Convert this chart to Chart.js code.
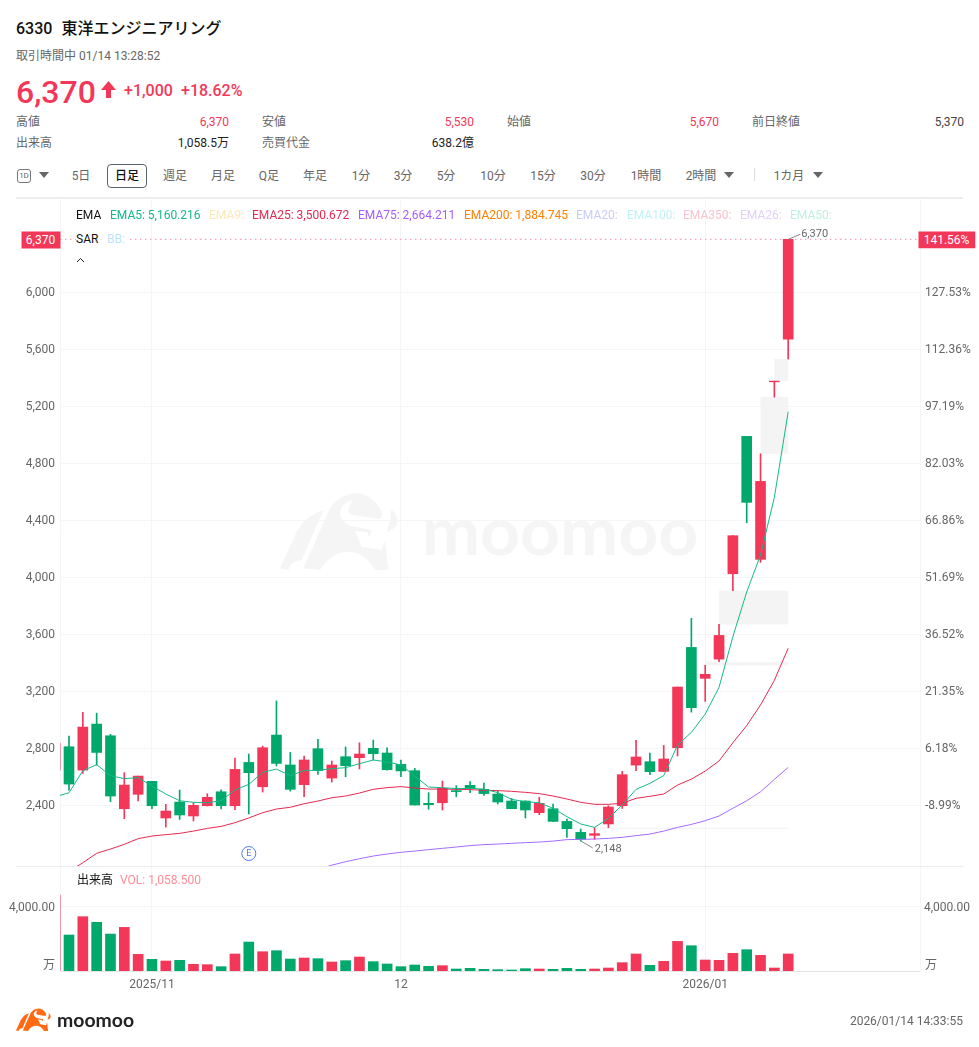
<!DOCTYPE html>
<html lang="ja"><head><meta charset="utf-8">
<script src="https://cdn.jsdelivr.net/npm/chart.js@4"></script>
<style>
html,body{margin:0;padding:0;background:#fff;}
body{width:979px;height:1047px;position:relative;overflow:hidden;font-family:Roboto,"Noto Sans CJK JP",sans-serif;font-size:12px;color:#666;}
.t{position:absolute;white-space:nowrap;line-height:16px;transform:translateY(-50%);}
.r{transform:translate(-100%,-50%);}
.c{transform:translate(-50%,-50%);}
canvas{position:absolute;left:0;}
.hl{position:absolute;background:#ececec;height:2px;left:16px;width:947px;}
</style></head><body>
<svg style="position:absolute;left:270px;top:485px" width="440" height="90" viewBox="0 0 1320 270">
<defs><g id="bull">
<path d="M30 250L80 140Q110 90 160 75L95 225Q65 225 55 255Z"/>
<path d="M100 250L180 70Q205 30 255 25Q305 25 335 80Q340 100 325 102L250 90Q232 85 235 72L247 45Q212 55 210 90Q215 112 240 122L305 135L298 158L292 142L255 138L275 185L335 195L345 165L355 255L315 255Q285 200 230 200Q180 205 150 255Z"/>
<path d="M362 72Q385 90 382 112Q378 135 350 140L362 100Z"/></g></defs>
<use href="#bull" fill="#f5f5f5"/>
<text x="455" y="210" font-family="Lato,Roboto" font-weight="700" font-size="200" fill="#f5f5f5" textLength="830" lengthAdjust="spacingAndGlyphs">moomoo</text>
</svg>
<canvas id="priceChart" width="979" height="668" style="top:198px"></canvas>
<canvas id="volChart" width="979" height="134" style="top:866px"></canvas>
<div class="hl" style="top:197px"></div>
<div class="hl" style="top:865.5px;height:1.5px"></div>

<div class="t" style="left:16px;top:29px;color:#111;font-weight:500;font-size:16px;">6330<span style="margin-left:9px;">東洋エンジニアリング</span></div>
<div class="t" style="left:16px;top:56px;">取引時間中 01/14 13:28:52</div>
<div class="t" style="left:16px;top:92px;color:#f23758;font-size:32px;font-weight:500;line-height:36px;">6,370</div>
<svg style="position:absolute;left:100px;top:80px" width="17" height="19"><path d="M8.5 1L16 10H11V18H6V10H1Z" fill="#f23758"/></svg>
<div class="t" style="left:124px;top:91px;color:#f23758;font-size:16px;font-weight:500;">+1,000</div>
<div class="t" style="left:181px;top:91px;color:#f23758;font-size:16px;font-weight:500;">+18.62%</div>

<div class="t" style="left:16px;top:122px;">高値</div><div class="t r" style="left:229px;top:122px;color:#f23758;">6,370</div>
<div class="t" style="left:262px;top:122px;">安値</div><div class="t r" style="left:474px;top:122px;color:#f23758;">5,530</div>
<div class="t" style="left:507px;top:122px;">始値</div><div class="t r" style="left:719px;top:122px;color:#f23758;">5,670</div>
<div class="t" style="left:752px;top:122px;">前日終値</div><div class="t r" style="left:964px;top:122px;color:#444;">5,370</div>
<div class="t" style="left:16px;top:143px;">出来高</div><div class="t r" style="left:229px;top:143px;color:#222;">1,058.5万</div>
<div class="t" style="left:262px;top:143px;">売買代金</div><div class="t r" style="left:474px;top:143px;color:#222;">638.2億</div>

<div style="position:absolute;left:17px;top:169px;width:12px;height:12px;border:1px solid #777;border-radius:3px;color:#666;font-size:8px;line-height:12px;text-align:center;">1D</div>
<svg style="position:absolute;left:39px;top:172px" width="10" height="7"><path d="M0 0H10L5 6Z" fill="#666"/></svg>
<div style="position:absolute;left:107px;top:164px;width:38px;height:22px;border:1px solid #5a6573;border-radius:4px;"></div>
<div id="toolbar"></div>
<svg style="position:absolute;left:724px;top:172px" width="10" height="7"><path d="M0 0H10L5 6Z" fill="#666"/></svg>
<div style="position:absolute;left:754px;top:168px;width:1px;height:13px;background:#ddd;"></div>
<svg style="position:absolute;left:813px;top:172px" width="10" height="7"><path d="M0 0H10L5 6Z" fill="#666"/></svg>

<div id="legend"></div>
<div class="t" style="left:76px;top:239px;color:#111;background:#fff;padding-right:3px;">SAR</div>
<div class="t" style="left:105px;top:239px;color:#bfe3fb;background:#fff;padding:0 3px 0 2px;">BB:</div>
<svg style="position:absolute;left:76px;top:257px" width="9" height="6"><path d="M1 5L4.5 1.5L8 5" fill="none" stroke="#222" stroke-width="1"/></svg>
<div class="t c" style="left:40.5px;top:239.5px;width:39px;height:17px;line-height:17px;background:#f23758;color:#fff;text-align:center;">6,370</div>
<div class="t c" style="left:946.5px;top:239.5px;width:57px;height:17px;line-height:17px;background:#f23758;color:#fff;text-align:center;">141.56%</div>

<div class="t" style="left:77px;top:880px;color:#111;">出来高</div>
<div class="t" style="left:120px;top:880px;color:#ff8d98;">VOL: 1,058.500</div>
<div class="t" style="left:43px;top:965px;">万</div>
<div class="t" style="left:925px;top:965px;">万</div>

<svg style="position:absolute;left:15px;top:1006px" width="37" height="27" viewBox="20 10 375 255"><use href="#bull" fill="#ff6a13"/></svg>
<div class="t" style="left:57px;top:1020px;color:#222;font-family:Lato,Roboto;font-weight:700;font-size:19.4px;">moomoo</div>
<div class="t r" style="left:963px;top:1021px;">2026/01/14 14:33:55</div>

<script>
// Trading days; the first entry is the session clipped at the plot's left edge.
const dates = ["10/23","10/24","10/27","10/28","10/29","10/30","10/31","11/04","11/05","11/06","11/07","11/10","11/11","11/12","11/13","11/14","11/17","11/18","11/19","11/20","11/21","11/25","11/26","11/27","11/28","12/01","12/02","12/03","12/04","12/05","12/08","12/09","12/10","12/11","12/12","12/15","12/16","12/17","12/18","12/19","12/22","12/23","12/24","12/25","12/26","12/29","12/30","01/05","01/06","01/07","01/08","01/09","01/13","01/14"];
const opens  = [2645,2809,2645,2968,2886,2374,2475,2566,2309,2421,2323,2395,2493,2395,2699,2528,2891,2681,2543,2795,2589,2739,2732,2798,2765,2685,2641,2412,2416,2501,2538,2510,2477,2428,2428,2346,2374,2285,2208,2187,2267,2395,2680,2704,2636,2802,3506,3289,3424,4023,4987,4124,5370,5670];
const highs  = [2850,2884,3050,3045,2896,2627,2603,2566,2405,2505,2416,2479,2507,2730,2758,2814,3130,2769,2744,2861,2709,2807,2837,2856,2802,2716,2657,2487,2568,2536,2564,2554,2498,2447,2430,2454,2407,2302,2232,2241,2395,2636,2854,2765,2818,3228,3710,3380,3668,4290,4987,4865,5375,6370];
const lows   = [2640,2505,2622,2680,2423,2304,2428,2374,2245,2299,2288,2393,2372,2367,2337,2491,2674,2498,2458,2615,2561,2599,2653,2716,2645,2599,2400,2370,2365,2458,2487,2468,2407,2374,2309,2332,2283,2173,2148,2159,2241,2376,2641,2613,2634,2744,3052,3127,3406,3904,4381,4103,5263,5530];
const closes = [2833,2547,2947,2769,2463,2540,2603,2395,2358,2330,2398,2454,2395,2650,2627,2802,2692,2510,2716,2641,2681,2676,2758,2760,2648,2639,2400,2402,2517,2494,2517,2480,2421,2374,2365,2412,2285,2234,2159,2199,2386,2613,2737,2634,2723,3228,3083,3317,3590,4290,4524,4671,5375,6370];
const volumes= [4727,2238,3378,3026,2298,2712,1035,725,621,662,414,393,269,1056,1801,1200,1263,745,807,766,559,642,869,580,435,269,373,290,331,124,166,104,83,62,145,124,104,166,104,124,186,518,1056,352,600,1842,1573,683,662,1097,1325,973,186,1058];
const ema5   = [2458,2486,2641,2683,2606,2585,2592,2533,2477,2430,2419,2416,2430,2505,2545,2629,2652,2606,2643,2643,2655,2662,2690,2716,2702,2681,2604,2526,2522,2515,2517,2512,2487,2440,2423,2416,2377,2318,2267,2243,2306,2400,2510,2552,2606,2821,2910,3038,3226,3581,3895,4154,4559,5160];
const ema25  = [1895,1932,1995,2061,2091,2124,2164,2182,2192,2201,2217,2236,2250,2276,2309,2346,2372,2384,2409,2428,2451,2463,2484,2510,2522,2529,2519,2512,2512,2510,2508,2503,2501,2496,2489,2480,2463,2442,2419,2405,2405,2412,2447,2461,2477,2540,2582,2638,2709,2837,2957,3102,3275,3500];
const ema75  = [null,null,null,null,null,null,null,null,null,null,null,null,null,null,null,null,null,null,null,1948,1978,2002,2023,2042,2056,2068,2077,2087,2096,2105,2115,2122,2126,2131,2136,2140,2147,2157,2159,2161,2166,2173,2185,2196,2217,2243,2264,2290,2323,2377,2430,2493,2580,2664];
const priceTicks = [2400,2800,3200,3600,4000,4400,4800,5200,5600,6000];
const percentLabels = ["-8.99%","6.18%","21.35%","36.52%","51.69%","66.86%","82.03%","97.19%","112.36%","127.53%"];
const volTicks = [4000];
const monthTicks = [7,25,47];
const monthLabels = ["2025/11","12","2026/01"];
const lastPrice = 6370;
// unfilled price gaps: first session index, last session index, low, high
const gapFrom=[39,47,48,51,52], gapTo=[53,53,53,53,53], gapLow=[2232,3380,3668,4865,5375], gapHigh=[2241,3403,3904,5263,5530];
const legendNames=["EMA","EMA5: 5,160.216","EMA9:","EMA25: 3,500.672","EMA75: 2,664.211","EMA200: 1,884.745","EMA20:","EMA100:","EMA350:","EMA26:","EMA50:"];
const legendColors=["#111","#14b98a","#fde9b6","#e5294f","#a45cff","#ff8000","#c9ccf8","#bff2f8","#f9c4cf","#e2d0fb","#bff0de"];
const legendX=[76,110,209,252,358,464,576,627,683,740,790];
const tools=["5日","日足","週足","月足","Q足","年足","1分","3分","5分","10分","15分","30分","1時間","2時間","1カ月"];
const toolX=[81,127,175,223,269,315,361,403,446,493,543,593,646,701,789];

legendNames.forEach((n,i)=>{const d=document.createElement('div');d.className='t';d.style.cssText=`left:${legendX[i]}px;top:215px;color:${legendColors[i]}`;d.textContent=n;document.getElementById('legend').appendChild(d);});
tools.forEach((n,i)=>{const d=document.createElement('div');d.className='t c';d.style.cssText=`left:${toolX[i]}px;top:176px;color:${n==='日足'?'#111':'#666'};font-weight:${n==='日足'?500:400}`;d.textContent=n;document.getElementById('toolbar').appendChild(d);});

const UP='#f23758', DOWN='#00a86b', GRID='#f5f5f5';
const barColors=closes.map((c,i)=>c>=opens[i]?UP:DOWN);
const xMin=0.35, xMax=62.53;
const xy=(arr)=>arr.map((v,i)=>({x:i,y:v}));
const lineDs=(data,color)=>({type:'line',data:xy(data),borderColor:color,borderWidth:1,pointRadius:0,tension:0,order:0});
const noPadV=(w)=>s=>{s.width=w;s.paddingTop=0;s.paddingBottom=0;};
const noPadH=(h)=>s=>{s.height=h;s.paddingLeft=0;s.paddingRight=0;};

const gapPlugin={id:'gaps',beforeDatasetsDraw(c){const {ctx,scales:{x,y}}=c;ctx.save();ctx.fillStyle='#f4f4f4';
 gapFrom.forEach((f,i)=>{const l=x.getPixelForValue(f),r=x.getPixelForValue(gapTo[i]),t=y.getPixelForValue(gapHigh[i]),b=y.getPixelForValue(gapLow[i]);ctx.fillRect(l,t,r-l,b-t);});ctx.restore();}};
const notePlugin={id:'notes',afterDatasetsDraw(c){const {ctx,scales:{x,y}}=c;ctx.save();ctx.font='11px Roboto';ctx.fillStyle='#666';ctx.strokeStyle='#888';ctx.lineWidth=1;
 const hi=highs.indexOf(Math.max(...highs)),lo=lows.indexOf(Math.min(...lows));
 let px=x.getPixelForValue(hi),py=y.getPixelForValue(highs[hi]);
 ctx.beginPath();ctx.moveTo(px,py);ctx.lineTo(px+12,py-5);ctx.stroke();ctx.textBaseline='middle';ctx.fillText('6,370',px+13,py-5);
 px=x.getPixelForValue(lo);py=y.getPixelForValue(lows[lo]);
 ctx.beginPath();ctx.moveTo(px,py);ctx.lineTo(px+12,py+7);ctx.stroke();ctx.fillText('2,148',px+14,py+8);
 const ex=x.getPixelForValue(14),ey=c.chartArea.bottom-12.5;
 ctx.beginPath();ctx.arc(ex,ey,7,0,Math.PI*2);ctx.fillStyle='#fff';ctx.fill();ctx.strokeStyle='#4c7bf0';ctx.stroke();
 ctx.fillStyle='#4c7bf0';ctx.font='9px Roboto';ctx.textAlign='center';ctx.fillText('E',ex,ey+0.5);
 ctx.restore();}};

const tickFont={family:'Roboto',size:12};
// two-line labels with a 2px line height nudge the text 1px below the gridline, as in the reference
const yTickFont={family:'Roboto',size:12,lineHeight:2/12};
const nudged=(s)=>['',s];
new Chart(document.getElementById('priceChart'),{
 data:{datasets:[
  lineDs(ema5,'#14b98a'),lineDs(ema25,'#e5294f'),lineDs(ema75,'#a66bff'),
  {type:'line',data:[{x:xMin,y:lastPrice},{x:xMax,y:lastPrice}],borderColor:'#f2a0b0',borderWidth:1.2,borderDash:[1.4,3.6],pointRadius:0,order:3},
  {type:'bar',label:'body',data:opens.map((o,i)=>({x:i,y:[Math.min(o,closes[i]),Math.max(o,closes[i])]})),backgroundColor:barColors,barThickness:10,grouped:false,order:1,borderWidth:0},
  {type:'bar',label:'wick',data:highs.map((h,i)=>({x:i,y:[lows[i],h]})),backgroundColor:barColors,barThickness:1,grouped:false,order:2,borderWidth:0}
 ]},
 options:{responsive:false,animation:false,layout:{padding:0},plugins:{legend:{display:false},tooltip:{enabled:false}},
  scales:{
   x:{type:'linear',offset:false,min:xMin,max:xMax,afterBuildTicks:s=>{s.ticks=monthTicks.map(v=>({value:v}));},afterFit:noPadH(0),
      ticks:{display:false},grid:{offset:false,color:GRID,drawTicks:false},border:{display:false}},
   y:{type:'linear',position:'left',min:1972,max:6660,afterBuildTicks:s=>{s.ticks=priceTicks.map(v=>({value:v}));},afterFit:noPadV(60),
      ticks:{color:'#666',font:yTickFont,padding:5,callback:v=>nudged(v.toLocaleString('en-US'))},grid:{color:GRID,drawTicks:false},border:{color:GRID}},
   y2:{type:'linear',position:'right',min:1972,max:6660,afterBuildTicks:s=>{s.ticks=priceTicks.map(v=>({value:v}));},afterFit:noPadV(59),
      ticks:{color:'#666',font:yTickFont,padding:5,callback:v=>nudged(percentLabels[priceTicks.indexOf(v)])},grid:{display:false,drawTicks:false},border:{color:GRID}}
  }},
 plugins:[gapPlugin,notePlugin]
});
new Chart(document.getElementById('volChart'),{
 data:{datasets:[{type:'bar',data:xy(volumes),backgroundColor:barColors,barThickness:10,borderWidth:0}]},
 options:{responsive:false,animation:false,layout:{padding:0},plugins:{legend:{display:false},tooltip:{enabled:false}},
  scales:{
   x:{type:'linear',offset:false,min:xMin,max:xMax,afterBuildTicks:s=>{s.ticks=monthTicks.map(v=>({value:v}));},afterFit:noPadH(29),
      ticks:{color:'#666',font:tickFont,padding:7,maxRotation:0,autoSkip:false,callback:v=>monthLabels[monthTicks.indexOf(v)]},grid:{offset:false,color:GRID,drawTicks:false},border:{color:'#e4e4e4',width:1}},
   y:{type:'linear',position:'left',min:0,max:6530,afterBuildTicks:s=>{s.ticks=volTicks.map(v=>({value:v}));},afterFit:noPadV(60),
      ticks:{color:'#666',font:yTickFont,padding:5,callback:v=>nudged(v.toLocaleString('en-US',{minimumFractionDigits:2}))},grid:{color:GRID,drawTicks:false},border:{color:GRID}},
   y2:{type:'linear',position:'right',min:0,max:6530,afterBuildTicks:s=>{s.ticks=volTicks.map(v=>({value:v}));},afterFit:noPadV(59),
      ticks:{color:'#666',font:yTickFont,padding:4,callback:v=>nudged(v.toLocaleString('en-US',{minimumFractionDigits:2}))},grid:{display:false,drawTicks:false},border:{color:GRID}}
  }}
});
</script>
</body></html>
